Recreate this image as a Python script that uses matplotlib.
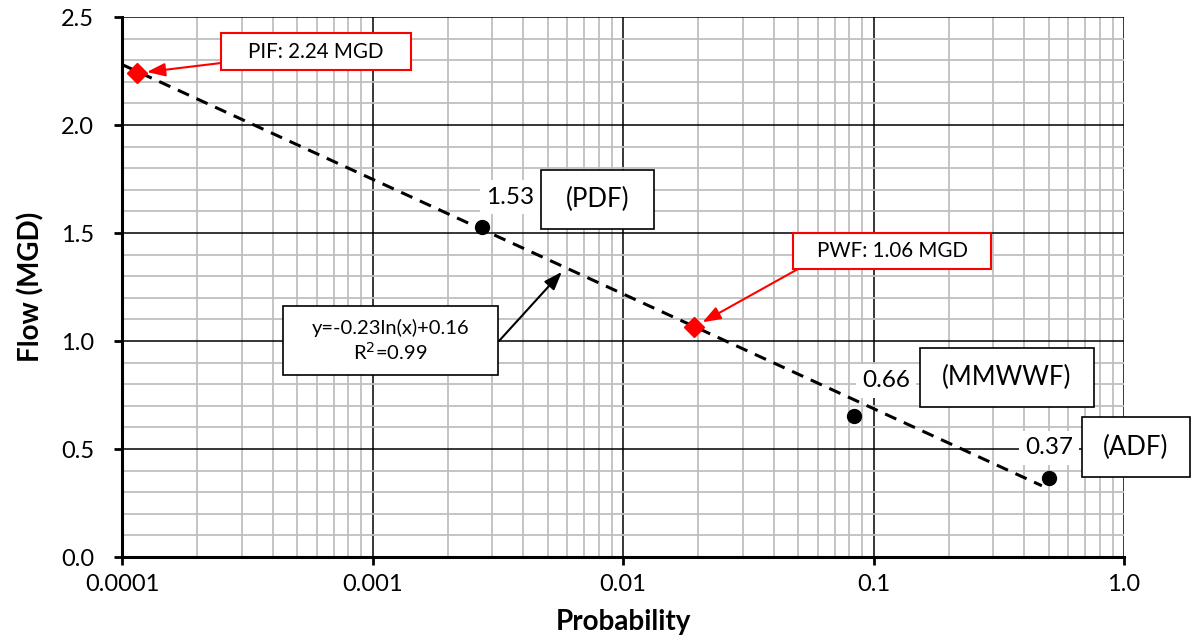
import matplotlib
matplotlib.use("Agg")
import matplotlib.pyplot as plt
from matplotlib.patches import Rectangle
from matplotlib.ticker import FixedLocator, LogLocator, NullFormatter, MultipleLocator

plt.rcParams["font.family"] = ["Lato", "DejaVu Sans"]

# flow points (probability, flow)
pt_names = ["PDF", "MMWWF", "ADF"]
pt_prob = [0.00274, 0.0836, 0.50]
pt_flow = [1.53, 0.653, 0.366]
pt_labels = ["1.53", "0.66", "0.37"]

# peak flows (red diamonds)
pk_names = ["PIF", "PWF"]
pk_prob = [0.000115, 0.0192]
pk_flow = [2.24, 1.065]

# trendline ends
trend_x = [0.0001, 0.47]
trend_y = [2.28, 0.33]

x_ticks = [0.0001, 0.001, 0.01, 0.1, 1.0]
x_ticklabels = ["0.0001", "0.001", "0.01", "0.1", "1.0"]

W, H = 1191, 639
fig = plt.figure(figsize=(W / 100, H / 100), dpi=100)
ax = fig.add_axes([122 / W, 1 - 557 / H, (1124 - 122) / W, (557 - 17) / H])


def px(x, y):
    return (x / W, 1 - y / H)


ax.set_xscale("log")
ax.set_xlim(0.0001, 1.0)
ax.set_ylim(0, 2.5)

ax.xaxis.set_major_locator(FixedLocator(x_ticks))
ax.set_xticklabels(x_ticklabels)
ax.xaxis.set_minor_locator(LogLocator(base=10, subs=range(2, 10)))
ax.xaxis.set_minor_formatter(NullFormatter())
ax.yaxis.set_major_locator(MultipleLocator(0.5))
ax.yaxis.set_minor_locator(MultipleLocator(0.1))
ax.yaxis.set_major_formatter(plt.FormatStrFormatter("%.1f"))

ax.grid(which="minor", color="#bfbfbf", linewidth=1.3, zorder=0)
ax.grid(which="major", color="black", linewidth=1.1, zorder=0.5)
ax.set_axisbelow(True)

for s in ["top", "right"]:
    ax.spines[s].set_visible(False)
for s in ["left", "bottom"]:
    ax.spines[s].set_linewidth(2.2)
ax.tick_params(which="major", length=6, width=2, labelsize=17, pad=6)
ax.tick_params(which="minor", length=0)
ax.tick_params(axis="y", pad=14)

ax.set_xlabel("Probability", fontsize=20, fontweight="bold", labelpad=10)
ax.set_ylabel("Flow (MGD)", fontsize=20, fontweight="bold", labelpad=12)

# trendline
ax.plot(trend_x, trend_y, color="black", lw=2.2, dashes=(4, 2.7), zorder=3)

# points
ax.plot(pt_prob, pt_flow, "o", color="black", ms=10, zorder=4, clip_on=False)
ax.plot(pk_prob, pk_flow, "D", color="#ff0000", ms=10, zorder=4, clip_on=False)

# value labels with white background
lab_pos = [(510, 197), (886, 381), (1049, 448)]
for (lx, ly), t in zip(lab_pos, pt_labels):
    fig.text(*px(lx, ly), t, ha="center", va="center", fontsize=17.5,
             bbox=dict(boxstyle="square,pad=0.25", fc="white", ec="none"), zorder=6)


def box(x0, y0, x1, y1, text, ec="black", size=18.5, lw=1.2):
    fx0, fy1 = px(x0, y0)
    fx1, fy0 = px(x1, y1)
    fig.add_artist(Rectangle((fx0, fy0), fx1 - fx0, fy1 - fy0, transform=fig.transFigure,
                             fc="white", ec=ec, lw=lw, zorder=7))
    fig.text((fx0 + fx1) / 2, (fy0 + fy1) / 2, text, ha="center", va="center",
             fontsize=size, zorder=8)


# name boxes
box(541, 170, 654, 229, "(" + pt_names[0] + ")")
box(920, 348, 1094, 407, "(" + pt_names[1] + ")")
box(1082, 417, 1190, 477, "(" + pt_names[2] + ")")

# peak boxes + red arrows
box(221, 33, 411, 70, f"{pk_names[0]}: {pk_flow[0]:.2f} MGD", ec="#ff0000", size=14.8, lw=1.5)
box(793, 233, 991, 269, f"{pk_names[1]}: 1.06 MGD", ec="#ff0000", size=14.8, lw=1.5)

arrow_red = dict(arrowstyle="-|>,head_length=1.1,head_width=0.4", color="#ff0000", lw=1.5,
                 shrinkA=0, shrinkB=7)
ax.annotate("", xy=(pk_prob[0], pk_flow[0]), xytext=px(221, 63), textcoords="figure fraction",
            arrowprops=arrow_red, zorder=6)
ax.annotate("", xy=(pk_prob[1], pk_flow[1]), xytext=px(798, 269), textcoords="figure fraction",
            arrowprops=arrow_red, zorder=6)

# equation box + arrow
box(283, 306, 498, 375, "y=-0.23ln(x)+0.16\nR$^2$=0.99", size=14.5)
ax.annotate("", xy=(0.0057, 1.32), xytext=px(499, 341), textcoords="figure fraction",
            arrowprops=dict(arrowstyle="-|>,head_length=1.1,head_width=0.4", color="black",
                            lw=1.5, shrinkA=0, shrinkB=0), zorder=6)

plt.savefig("out.png", dpi=100)
